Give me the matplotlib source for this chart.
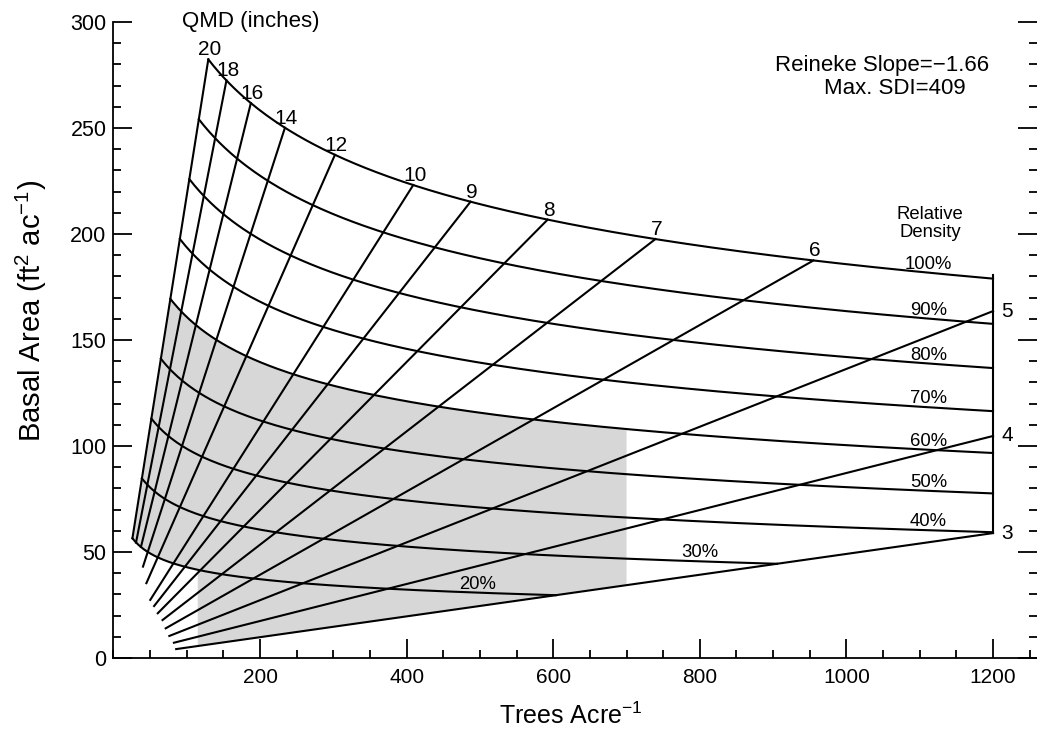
#stand density management diagram (basal area vs trees per acre)
import numpy as np
import matplotlib.pyplot as plt
from matplotlib.ticker import MultipleLocator, FixedLocator

plt.rcParams['font.family'] = ['Liberation Sans', 'DejaVu Sans']
plt.rcParams['mathtext.fontset'] = 'custom'
plt.rcParams['mathtext.rm'] = 'Liberation Sans'
plt.rcParams['mathtext.it'] = 'Liberation Sans:italic'

# diagram parameters (printed on the chart)
reineke_slope = -1.66
max_sdi = 409
max_tpa = 1200

# QMD lines (inches) and where each one starts at the bottom (basal area)
qmd_values = [3, 4, 5, 6, 7, 8, 9, 10, 12, 14, 16, 18, 20]
qmd_start_ba = [4.2, 7.2, 10.4, 14.0, 17.9, 21.1, 24.5, 27.4, 35.3, 43.1, 52.5, 54.4, 56.5]

# relative density lines (%) and where their labels sit (trees/acre)
rd_values = [20, 30, 40, 50, 60, 70, 80, 90, 100]
rd_label_tpa = [497, 800, 1112, 1112, 1112, 1112, 1112, 1112, 1112]

# shaded management zone
shade_tpa = [115, 700]
shade_rd = [20, 60]

BA_K = 0.005454  # ft2 per squared inch of diameter


def ba_from_qmd(qmd, tpa):
    return BA_K * qmd ** 2 * tpa


def tpa_at(qmd, rd):
    sdi = rd / 100 * max_sdi
    return sdi / (qmd / 10) ** (-reineke_slope)


def ba_from_rd(rd, tpa):
    sdi = rd / 100 * max_sdi
    qmd = 10 * (sdi / tpa) ** (1 / -reineke_slope)
    return ba_from_qmd(qmd, tpa)


fig = plt.figure(figsize=(10.37, 7.32), dpi=100)
ax = fig.add_axes([0.1094, 0.1011, 0.8906, 0.8689])

lw = 1.5
qmin, qmax = min(qmd_values), max(qmd_values)

# shaded zone
t_top = np.linspace(tpa_at(qmax, shade_rd[1]), shade_tpa[1], 200)
t_low = np.linspace(shade_tpa[0], tpa_at(qmax, shade_rd[0]), 200)
px = np.concatenate([t_top, [shade_tpa[1], shade_tpa[0]], t_low])
py = np.concatenate([ba_from_rd(shade_rd[1], t_top),
                     [ba_from_qmd(qmin, shade_tpa[1]), ba_from_qmd(qmin, shade_tpa[0])],
                     ba_from_rd(shade_rd[0], t_low)])
ax.fill(px, py, color='#d7d7d7', lw=0, zorder=1)

# relative density curves
for rd, lt in zip(rd_values, rd_label_tpa):
    t = np.linspace(tpa_at(qmax, rd), min(max_tpa, tpa_at(qmin, rd)), 300)
    ax.plot(t, ba_from_rd(rd, t), color='black', lw=lw, zorder=3)
    ax.annotate(f"{rd}%", (lt, ba_from_rd(rd, lt)), xytext=(0, 0), textcoords='offset points',
                ha='center', va='bottom', fontsize=13.3, zorder=4)

# QMD lines
for q, b0 in zip(qmd_values, qmd_start_ba):
    t0 = b0 / (BA_K * q ** 2)
    t1 = min(max_tpa, tpa_at(q, 100))
    ax.plot([t0, t1], [ba_from_qmd(q, t0), ba_from_qmd(q, t1)], color='black', lw=lw, zorder=3)
    if t1 < max_tpa:
        ax.annotate(str(q), (t1, ba_from_qmd(q, t1)), xytext=(1, 0), textcoords='offset points',
                    ha='center', va='bottom', fontsize=15)
    else:
        ax.annotate(str(q), (t1, ba_from_qmd(q, t1)), xytext=(6, 0), textcoords='offset points',
                    ha='left', va='center', fontsize=15)

# right hand closing line at max trees/acre
ax.plot([max_tpa, max_tpa], [ba_from_qmd(qmin, max_tpa), ba_from_rd(100, max_tpa) + 1.5],
        color='black', lw=lw, zorder=3)

ax.text(187, 300, 'QMD (inches)', ha='center', va='center', fontsize=16, clip_on=False)
ax.text(1049, 279.5, 'Reineke Slope=\u22121.66', ha='center', va='center', fontsize=16)
ax.text(1066, 268.8, 'Max. SDI=409', ha='center', va='center', fontsize=16)
ax.text(1114, 205, 'Relative\nDensity', ha='center', va='center', fontsize=13.3, linespacing=1.1)

ax.set_xlim(0, 1260)
ax.set_ylim(0, 300)
ax.spines['top'].set_visible(False)
ax.spines['right'].set_visible(False)
for s in ['left', 'bottom']:
    ax.spines[s].set_linewidth(1.3)

ax.xaxis.set_major_locator(FixedLocator([200, 400, 600, 800, 1000, 1200]))
ax.xaxis.set_minor_locator(MultipleLocator(50))
ax.yaxis.set_major_locator(MultipleLocator(50))
ax.yaxis.set_minor_locator(MultipleLocator(10))
ax.tick_params(which='both', direction='in', right=True, top=False, width=1.3)
ax.tick_params(which='major', length=14)
ax.tick_params(which='minor', length=6)
ax.tick_params(axis='x', labelsize=15, pad=7)
ax.tick_params(axis='y', labelsize=15.5, pad=5)

ax.set_xlabel('Trees Acre$^{-1}$', fontsize=18)
ax.set_ylabel('Basal Area (ft$^2$ ac$^{-1}$)', fontsize=21)
ax.xaxis.set_label_coords(0.495, -0.07)
ax.yaxis.set_label_coords(-0.07, 0.545)

plt.savefig('out.png', dpi=100)
